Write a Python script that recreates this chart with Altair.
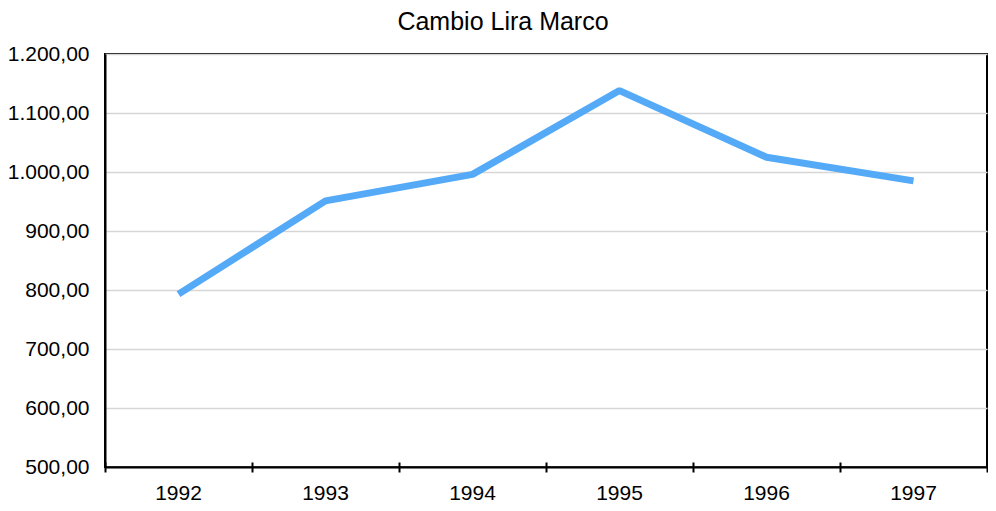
import altair as alt
import pandas as pd

years = ["1992", "1993", "1994", "1995", "1996", "1997"]
values = [793, 951, 996, 1138, 1025, 985]
y_ticks = [500, 600, 700, 800, 900, 1000, 1100, 1200]

df = pd.DataFrame({"anno": years, "cambio": values})

FONT = "Liberation Sans"
label_expr = "replace(replace(replace(format(datum.value, ',.2f'), ',', '#'), '.', ','), '#', '.')"

x_scale = alt.Scale(domain=years, paddingInner=0, paddingOuter=0)
y_scale = alt.Scale(domain=[500, 1200], nice=False, zero=False)

line = alt.Chart(df).mark_line(
    color="#55AAF8", strokeWidth=7, strokeCap="butt", strokeJoin="bevel"
).encode(
    x=alt.X("anno:N", scale=x_scale, sort=years,
            axis=alt.Axis(title=None, labelAngle=0, ticks=False, domain=True,
                          domainColor="black", domainWidth=2,
                          labelFont=FONT, labelFontSize=21, labelColor="black",
                          labelPadding=15, grid=False, orient="bottom")),
    y=alt.Y("cambio:Q", scale=y_scale,
            axis=alt.Axis(title=None, values=y_ticks, labelExpr=label_expr,
                          ticks=False, domain=True, domainColor="black", domainWidth=2,
                          labelFont=FONT, labelFontSize=21, labelColor="black",
                          labelPadding=16, grid=True, gridColor="#d6d6d6", gridWidth=1.5)),
)

tick_layer = alt.Chart(df).mark_point(opacity=0).encode(
    x=alt.X("anno:N", scale=x_scale, sort=years,
            axis=alt.Axis(title=None, labels=False, domain=False, ticks=True,
                          tickBand="extent", tickSize=10, tickWidth=2, tickColor="black",
                          offset=-5, grid=False, orient="bottom")),
)

chart = alt.layer(line, tick_layer).resolve_axis(x="independent").properties(
    width=882, height=413,
    title=alt.TitleParams("Cambio Lira Marco", font=FONT, fontSize=25,
                          fontWeight="normal", color="black", anchor="middle",
                          dx=-43, offset=8),
    autosize=alt.AutoSizeParams(type="none"),
    padding={"left": 97, "top": 46, "right": 1, "bottom": 40},
).configure_view(stroke="black", strokeWidth=2)

chart.save("out.html", embed_options={"renderer": "svg", "actions": False})
